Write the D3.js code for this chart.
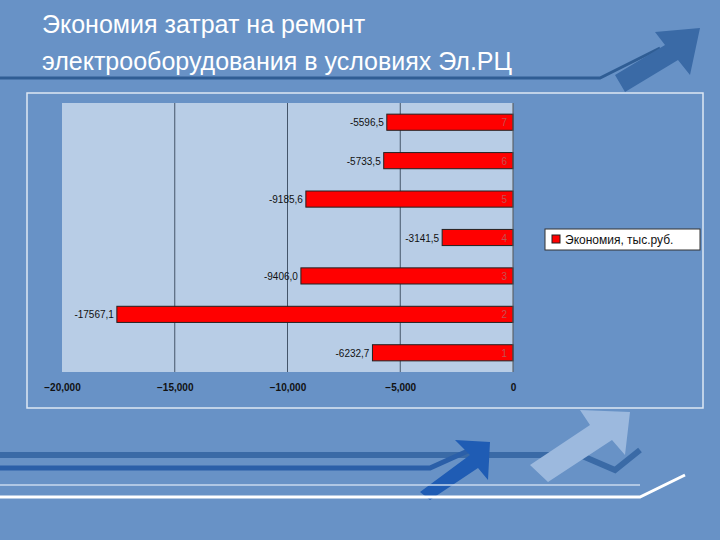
<!DOCTYPE html>
<html><head><meta charset="utf-8">
<script src="https://cdn.jsdelivr.net/npm/d3@7"></script>
<style>body{margin:0}svg{display:block}</style>
</head><body>
<script>
// data
const categories = ["1", "2", "3", "4", "5", "6", "7"];
const values = [-6232.7, -17567.1, -9406.0, -3141.5, -9185.6, -5733.5, -5596.5];
const valueLabels = ["-6232,7", "-17567,1", "-9406,0", "-3141,5", "-9185,6", "-5733,5", "-5596,5"];
const xTicks = [-20000, -15000, -10000, -5000, 0];
const legendText = "Экономия, тыс.руб.";

const svg = d3.select("body").append("svg").attr("width", 720).attr("height", 540);
svg.append("rect").attr("width", 720).attr("height", 540).attr("fill", "#6892c6");

// title
const title = svg.append("text").attr("x", 42).attr("fill", "#fff")
	.attr("font-family", "Liberation Sans, Arial").attr("font-size", 25);
title.append("tspan").attr("x", 42).attr("y", 33).text("Экономия затрат на ремонт");
title.append("tspan").attr("x", 42).attr("y", 70).text("электрооборудования в условиях Эл.РЦ");

// decorative lines and arrows
svg.append("path").attr("d", "M0,78 L600,78 L660,48").attr("fill", "none").attr("stroke", "#2f5d94").attr("stroke-width", 3);
svg.append("path").attr("d", "M615,75 L665,45 L655,32 L700,28 L690,75 L678,60 L625,92 Z").attr("fill", "#3a6aa6");
svg.append("path").attr("d", "M0,455 L580,455 L615,470 L640,450").attr("fill", "none").attr("stroke", "#3a6aa6").attr("stroke-width", 6);
svg.append("path").attr("d", "M0,468 L430,468 L470,450").attr("fill", "none").attr("stroke", "#2b5fa8").attr("stroke-width", 5);
svg.append("path").attr("d", "M420,492 L470,455 L455,440 L490,442 L488,480 L478,468 L430,500 Z").attr("fill", "#1f5cb4");
svg.append("path").attr("d", "M530,465 L590,425 L580,410 L630,412 L625,455 L612,440 L548,482 Z").attr("fill", "#9cb9de");
svg.append("path").attr("d", "M0,497 L640,497 L685,475").attr("fill", "none").attr("stroke", "#fff").attr("stroke-width", 3);
svg.append("path").attr("d", "M0,485 L640,485").attr("fill", "none").attr("stroke", "#c8d8ee").attr("stroke-width", 1.5);

// chart frame
svg.append("rect").attr("x", 27).attr("y", 93).attr("width", 676).attr("height", 315)
	.attr("fill", "#6892c6").attr("stroke", "#dde7f3").attr("stroke-width", 1.5);

const pLeft = 62, pRight = 513, pTop = 103, pBottom = 372;
const x = d3.scaleLinear().domain([-20000, 0]).range([pLeft, pRight]);
const y = d3.scaleBand().domain(categories.slice().reverse()).range([pTop, pBottom]).paddingInner(0.58).paddingOuter(0.29);

svg.append("rect").attr("x", pLeft).attr("y", pTop).attr("width", pRight - pLeft).attr("height", pBottom - pTop).attr("fill", "#b8cde6");

// grid
svg.append("g").selectAll("line").data(xTicks.slice(1, -1)).join("line")
	.attr("x1", d => x(d)).attr("x2", d => x(d)).attr("y1", pTop).attr("y2", pBottom)
	.attr("stroke", "#44556a").attr("stroke-width", 1);

// bars
svg.append("g").selectAll("rect").data(values).join("rect")
	.attr("x", d => x(d)).attr("y", (d, i) => y(categories[i]))
	.attr("width", d => x(0) - x(d)).attr("height", y.bandwidth())
	.attr("fill", "#ff0000").attr("stroke", "#222").attr("stroke-width", 1);

// value labels
svg.append("g").selectAll("text").data(values).join("text")
	.attr("x", d => x(d) - 3).attr("y", (d, i) => y(categories[i]) + y.bandwidth() / 2 + 4)
	.attr("text-anchor", "end").attr("font-family", "Liberation Sans, Arial").attr("font-size", 10).attr("fill", "#111")
	.text((d, i) => valueLabels[i]);

// category labels
svg.append("g").selectAll("text").data(categories).join("text")
	.attr("x", pRight - 6).attr("y", d => y(d) + y.bandwidth() / 2 + 4)
	.attr("text-anchor", "end").attr("font-family", "Liberation Sans, Arial").attr("font-size", 10).attr("fill", "#c45050")
	.text(d => d);

// right axis line
svg.append("line").attr("x1", pRight).attr("x2", pRight).attr("y1", pTop).attr("y2", pBottom).attr("stroke", "#555");

// x axis
const ax = svg.append("g").attr("transform", `translate(0,${pBottom})`)
	.call(d3.axisBottom(x).tickValues(xTicks).tickSize(0).tickPadding(12));
ax.select(".domain").remove();
ax.selectAll("text").attr("font-family", "Liberation Sans, Arial").attr("font-size", 10).attr("font-weight", "bold").attr("fill", "#111");

// legend
svg.append("rect").attr("x", 545).attr("y", 229).attr("width", 155).attr("height", 21).attr("fill", "#fff").attr("stroke", "#333");
svg.append("rect").attr("x", 552).attr("y", 235).attr("width", 8).attr("height", 8).attr("fill", "#ff0000").attr("stroke", "#222");
svg.append("text").attr("x", 565).attr("y", 244).attr("font-family", "Liberation Sans, Arial").attr("font-size", 12).attr("fill", "#111").text(legendText);
</script>
</body></html>
